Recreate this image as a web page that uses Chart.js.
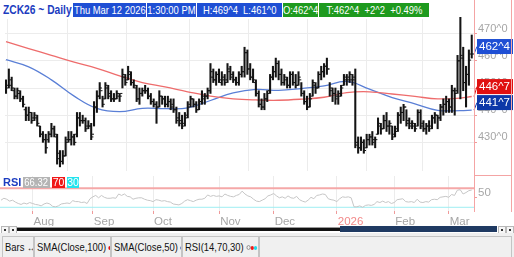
<!DOCTYPE html>
<html><head><meta charset="utf-8">
<script src="https://cdn.jsdelivr.net/npm/chart.js@4/dist/chart.umd.min.js"></script>
<style>
html,body{margin:0;padding:0;background:#fff;}
body{width:514px;height:257px;position:relative;overflow:hidden;font-family:"Liberation Sans",Arial,sans-serif;}
canvas{position:absolute;left:0;}
#c1{top:0;}
#c2{top:176px;}
.a{position:absolute;white-space:nowrap;}
.s{display:inline-block;transform:scaleX(0.82);}
#hdr{left:0;top:0;width:430px;height:19px;background:#fff;}
.ttl{left:3px;top:2px;font-weight:bold;font-size:12.5px;line-height:16px;color:#1c3cc0;}
.ttl .s{transform-origin:left center;transform:scaleX(0.82);}
.bx{top:3px;height:14px;line-height:14px;font-size:11.5px;color:#fff;display:flex;justify-content:center;align-items:center;}
.bl{background:#1f4fd4;}
.gr{background:#1e9a1e;}
.rl{left:3px;top:177px;font-weight:bold;font-size:11px;line-height:11px;color:#1c3cc0;}
.rb{top:177px;height:11px;line-height:11px;font-size:10.5px;color:#fff;display:flex;justify-content:center;align-items:center;}
.vl{background:#f4a4a4;}
.btn{top:226px;width:6px;height:6px;border:1px solid #b8b8b8;background:#f6f6f6;}
.btn i{position:absolute;left:2px;top:2px;width:2px;height:2px;background:#333;}
#legbar{left:0;top:233px;width:514px;height:24px;background:#efefef;}
.lg{top:236px;height:21px;border:1px solid #c4c4c4;border-bottom:none;background:#f0f0f0;font-size:11.5px;line-height:20px;color:#111;padding-left:2px;box-sizing:border-box;overflow:hidden;}
.lg .s{transform-origin:left center;}
.dot{display:inline-block;width:4px;height:4px;border-radius:50%;vertical-align:middle;margin-left:3px;}
</style></head>
<body>
<canvas id="c1" width="514" height="176"></canvas>
<canvas id="c2" width="514" height="50"></canvas>

<div id="hdr" class="a"></div>
<div class="a ttl"><span class="s">ZCK26 ~ Daily</span></div>
<div class="a bx bl" style="left:73px;width:73px;"><span class="s">Thu Mar 12 2026</span></div>
<div class="a bx bl" style="left:147px;width:49px;"><span class="s">1:30:00 PM</span></div>
<div class="a bx bl" style="left:197px;width:85px;"><span class="s" id="hl"></span></div>
<div class="a bx gr" style="left:283px;width:35px;"><span class="s" id="op"></span></div>
<div class="a bx gr" style="left:319px;width:110px;"><span class="s" id="tc"></span></div>

<div class="a rl">RSI</div>
<div class="a rb" style="left:23px;width:27px;background:#b4b4b4;"><span class="s" id="rv" style="transform:scaleX(0.9)"></span></div>
<div class="a rb" style="left:52px;width:13px;background:#f01818;">70</div>
<div class="a rb" style="left:67px;width:12px;background:#22e4ee;">30</div>

<div class="a vl" style="left:474px;top:0;width:1px;height:212px;"></div>
<div class="a vl" style="left:511px;top:0;width:1px;height:212px;"></div>
<div class="a vl" style="left:474px;top:175px;width:38px;height:1px;"></div>

<div class="a btn" style="left:1px;"><i></i></div>
<div class="a btn" style="left:9px;"><i></i></div>
<div class="a" style="left:17px;top:227px;width:323px;height:1px;background:#999;"></div>
<div class="a" style="left:17px;top:228px;width:323px;height:3px;background:#111;"></div>
<div class="a" style="left:340px;top:226px;width:157px;height:6px;background:#1f3a62;"></div>
<div class="a btn" style="left:498px;"><i></i></div>
<div class="a btn" style="left:506px;"><i></i></div>

<div id="legbar" class="a"></div>
<div class="a lg" style="left:2px;width:32px;"><span class="s">Bars <b style="font-size:10px">&#8596;</b></span></div>
<div class="a lg" style="left:34px;width:77px;"><span class="s">SMA(Close,100)<span class="dot" style="background:#e01010"></span></span></div>
<div class="a lg" style="left:111px;width:71px;"><span class="s">SMA(Close,50)<span class="dot" style="background:#1030a0"></span></span></div>
<div class="a lg" style="left:182px;width:77px;"><span class="s">RSI(14,70,30)<span class="dot" style="border:1px solid #888;width:3px;height:3px;"></span><span class="dot" style="background:#f01818;margin-left:0"></span><span class="dot" style="background:#22d8e8;margin-left:0"></span></span></div>
<div class="a lg" style="left:259px;width:253px;"></div>

<script>
// ---- data (bar index 0 = Jul 17 2025 ... 164 = Mar 12 2026) ----
const highs = [453,457,454,450,450,449,447,443,443,441,441,440,
436,434,433,434,437,436,433,427,427,432,434,434,433,441,441,440,439,438,437,445,
449,452,447,452,451,449,448,449,448,457,455,458,456,453,451,450,450,451,450,448,446,
445,449,447,447,447,446,446,443,441,440,441,445,447,446,445,446,449,
448,450,459,457,456,457,456,455,459,458,456,454,456,458,465,464,459,457,453,449,446,448,449,455,458,
461,460,457,455,454,456,456,455,456,452,449,447,448,453,452,456,458,459,461,452,450,450,
449,451,455,455,456,455,457,
432,432,431,433,433,434,432,439,437,440,441,438,436,
436,441,443,444,442,439,438,437,442,442,438,437,438,440,441,440,444,446,447,
446,451,450,462,476,465,458,464,469.5];
const lows = [448,450,449,446,446,445,443,438,438,437,438,436,
432,430,426,430,432,432,422,421,422,425,430,429,429,432,436,437,434,435,431,436,
441,446,443,446,446,445,445,446,445,450,451,453,451,450,445,444,447,448,446,444,443,
437,443,444,443,443,442,441,437,436,435,436,439,443,443,441,442,444,
444,446,448,452,451,452,451,451,452,453,452,451,451,454,454,455,453,452,447,443,442,442,445,448,453,
454,453,451,451,450,450,451,450,451,447,444,442,443,447,448,450,453,454,455,447,445,444,
444,447,451,451,452,451,428,
426,427,426,428,429,429,428,433,433,435,434,433,431,
432,434,437,438,436,435,435,434,436,435,434,433,434,435,437,435,438,440,441,
441,441,440,448,446,449,443,451,461];
const opens = [452,451,453,449,447,448,446,442,440,441,439,439,
436,433,431,431,433,435,432,426,423,425,431,431,432,433,439,438,438,436,436,433,
443,447,449,446,450,448,446,446,447,448,454,453,455,452,450,446,448,449,449,447,445,
444,443,447,446,444,445,444,442,439,438,437,440,444,446,444,442,445,
446,447,449,454,453,455,452,453,453,456,455,453,452,455,456,463,457,454,452,448,444,443,446,449,454,
456,459,455,452,453,451,455,452,451,453,448,445,443,447,451,450,455,456,458,457,450,448,
447,447,451,453,454,453,454,
430,428,430,428,431,432,431,433,436,435,438,436,436,
433,435,440,441,443,438,437,436,436,441,437,435,436,436,439,440,439,443,444,
445,443,449,449,460,461,452,455,462.5];
const closes = [450,451,450,447,449,446,444,440,441,438,440,437,
433,431,428,433,435,433,424,423,425,430,431,432,430,439,438,438,435,436,432,443,
447,450,444,451,447,446,446,448,447,455,452,456,452,451,446,448,449,449,447,445,444,
443,447,446,444,445,443,442,438,437,436,439,443,446,444,442,445,447,
447,449,456,453,455,453,454,452,457,454,453,452,455,456,463,457,454,453,448,444,443,446,448,454,456,
459,455,452,454,451,455,452,451,454,448,445,443,446,452,450,455,456,458,457,449,448,446,
448,450,454,453,455,453,429,
428,430,427,431,432,430,431,437,435,438,436,437,432,
434,440,441,443,437,436,437,435,441,436,435,436,435,439,440,439,443,444,445,
443,449,448,460,462,452,455,460.25,462.5];
// moving averages read at these bar indices
const smaIdx = [0,8,16,24,32,40,48,56,64,72,80,88,96,104,112,120,128,136,144,152,160,164];
const sma100 = [467.1,464.5,462.0,459.5,457.2,454.5,452.0,450.4,448.6,447.0,446.0,445.6,445.5,445.9,446.6,448.3,448.6,447.8,446.9,446.0,446.3,446.875];
const sma50  = [460.4,457.8,453.0,447.0,442.5,441.3,442.5,442.4,442.7,445.4,448.2,449.5,449.1,449.8,450.8,452.4,449.6,446.5,444.2,441.8,441.7,441.875];
const rsi = [45,49,47,43,45,41,38,36,39,37,40,
38,36,35,33,37,39,37,32,31,33,
37,38,39,38,44,42,42,40,41,38,
48,52,55,50,55,51,49,49,50,49,
58,55,58,53,52,47,49,50,50,47,
45,44,42,46,45,43,44,42,41,37,
36,35,38,43,46,44,42,45,47,47,
49,56,53,55,53,54,52,58,55,53,
52,55,57,64,58,54,52,47,43,42,
45,48,54,56,59,54,50,52,49,54,
50,49,53,46,43,41,45,51,48,55,
56,58,57,48,46,45,42,48,52,51,
52,50,31,31,33,30,34,35,34,36,
42,40,43,40,42,38,40,46,47,48,
42,41,42,40,47,41,40,42,41,46,
47,46,51,52,53,51,57,55,66,67,
58,61,65,66.32];
const rsiLevels = [70, 30];
const priceTicks = [430,440,450,460,470];
const monthIdx = [11,32,53,76,95,117,137,156];
const monthLabels = ['Aug','Sep','Oct','Nov','Dec','2026','Feb','Mar'];

// ---- helpers ----
function eighths(v){let w=Math.floor(v);let e=Math.round((v-w)*8);if(e===8){w+=1;e=0;}return w+'^'+e;}
const FONT = '"Liberation Sans",Arial,sans-serif';
const N = closes.length;
const last = N-1;
document.getElementById('hl').textContent = 'H:'+eighths(highs[last])+'\u00a0\u00a0L:'+eighths(lows[last]);
document.getElementById('op').textContent = 'O:'+eighths(opens[last]);
const chg = closes[last]-closes[last-1];
document.getElementById('tc').textContent = 'T:'+eighths(closes[last])+'\u00a0\u00a0+'+eighths(chg)+'\u00a0\u00a0+'+(chg/closes[last-1]*100).toFixed(2)+'%';
document.getElementById('rv').textContent = rsi[last].toFixed(2);

const XMIN=-0.35, XMAX=164.8;
const gridCol='#ececec', tickCol='#f09a9a', lblCol='#a6a6a6';
const noPad = s=>{s.paddingTop=0;s.paddingBottom=0;s.paddingLeft=0;s.paddingRight=0;};

const valueBoxes = {
  id:'valueBoxes',
  afterDraw(chart){
    const ys=chart.scales.y, ctx=chart.ctx, a=chart.chartArea;
    const items=[
      {v:closes[last], bg:'#1f4fd4'},
      {v:sma100[sma100.length-1], bg:'#e01010'},
      {v:sma50[sma50.length-1], bg:'#0d38a8'}
    ].map(o=>Object.assign(o,{py:ys.getPixelForValue(o.v)}));
    items.sort((p,q)=>q.py-p.py);
    let lim=Infinity;
    items.forEach(o=>{o.bottom=Math.min(o.py,lim);lim=o.bottom-16;});
    ctx.save();
    items.forEach(o=>{
      const top=o.bottom-15;
      ctx.strokeStyle=o.bg;ctx.lineWidth=1;
      ctx.beginPath();ctx.moveTo(a.right,o.py);ctx.lineTo(a.right+3,top+7.5);ctx.stroke();
      ctx.fillStyle=o.bg;ctx.fillRect(a.right+3,top,36,15);
      ctx.fillStyle='#fff';ctx.font='11.5px '+FONT;ctx.textBaseline='middle';ctx.textAlign='left';
      ctx.fillText(eighths(o.v),a.right+5,top+8);
    });
    ctx.restore();
  }
};

new Chart(document.getElementById('c1'),{
  type:'bar',
  data:{datasets:[
    {type:'line',data:smaIdx.map((x,i)=>({x,y:sma100[i]})),borderColor:'#ee6c6c',borderWidth:1.3,pointRadius:0,tension:0.4,order:3},
    {type:'line',data:smaIdx.map((x,i)=>({x,y:sma50[i]})),borderColor:'#5a7fd6',borderWidth:1.3,pointRadius:0,tension:0.4,order:3},
    {type:'bar',data:highs.map((h,i)=>({x:i,y:[lows[i],h]})),backgroundColor:'#141414',barThickness:1.4,order:1},
    {type:'line',showLine:false,data:opens.map((o,i)=>({x:i-0.4,y:o})),pointStyle:'line',pointRadius:1.1,borderColor:'#141414',borderWidth:1,order:0},
    {type:'line',showLine:false,data:closes.map((c,i)=>({x:i+0.4,y:c})),pointStyle:'line',pointRadius:1.1,borderColor:'#141414',borderWidth:1,order:0}
  ]},
  options:{
    responsive:false,animation:false,
    layout:{padding:{top:2,left:0,right:0,bottom:0}},
    plugins:{legend:{display:false},tooltip:{enabled:false}},
    scales:{
      x:{type:'linear',min:XMIN,max:XMAX,offset:false,
         afterBuildTicks:s=>{s.ticks=monthIdx.map(v=>({value:v}));},
         afterFit:s=>{s.height=0;noPad(s);},
         ticks:{display:false},grid:{color:gridCol,drawTicks:false},border:{display:false}},
      y:{position:'right',min:419.47,max:480.53,
         afterBuildTicks:s=>{s.ticks=priceTicks.map(v=>({value:v}));},
         afterFit:s=>{s.width=40;noPad(s);},
         grid:{color:gridCol,tickColor:tickCol,tickLength:3},
         border:{display:false},
         ticks:{color:lblCol,font:{family:FONT,size:11},padding:1,labelOffset:-5,callback:v=>eighths(v)}}
    }
  },
  plugins:[valueBoxes]
});

const levelLines = {
  id:'levelLines',
  beforeDatasetsDraw(chart){
    const ys=chart.scales.y, ctx=chart.ctx, a=chart.chartArea;
    const cols=['#f5a8a8','#9eeef2'], w=[2,1];
    ctx.save();
    rsiLevels.forEach((lv,i)=>{
      const y=ys.getPixelForValue(lv);
      ctx.strokeStyle=cols[i];ctx.lineWidth=w[i];
      ctx.beginPath();ctx.moveTo(a.left,y);ctx.lineTo(a.right,y);ctx.stroke();
    });
    ctx.restore();
  }
};

new Chart(document.getElementById('c2'),{
  type:'line',
  data:{datasets:[
    {data:rsi.map((v,i)=>({x:i,y:v})),borderColor:'#c6c6c6',borderWidth:1,pointRadius:0,tension:0}
  ]},
  options:{
    responsive:false,animation:false,
    layout:{padding:{top:0,left:0,right:0,bottom:0}},
    plugins:{legend:{display:false},tooltip:{enabled:false}},
    scales:{
      x:{type:'linear',min:XMIN,max:XMAX,offset:false,
         afterBuildTicks:s=>{s.ticks=monthIdx.map(v=>({value:v}));},
         afterFit:s=>{s.height=15;noPad(s);},
         grid:{color:gridCol,tickColor:tickCol,tickLength:3},
         border:{display:false},
         ticks:{align:'start',autoSkip:false,maxRotation:0,padding:1,labelOffset:1,
                font:{family:FONT,size:11.5},
                color:c=>monthLabels[c.index]==='2026'?'#f28a8a':lblCol,
                callback:(v,i)=>monthLabels[i]}},
      y:{position:'right',min:22.2,max:95.9,
         afterBuildTicks:s=>{s.ticks=[{value:50}];},
         afterFit:s=>{s.width=40;noPad(s);},
         grid:{drawOnChartArea:false,tickColor:tickCol,tickLength:3},
         border:{display:false},
         ticks:{color:lblCol,font:{family:FONT,size:11.5},padding:1,labelOffset:-5}}
    }
  },
  plugins:[levelLines]
});
</script>
</body></html>
